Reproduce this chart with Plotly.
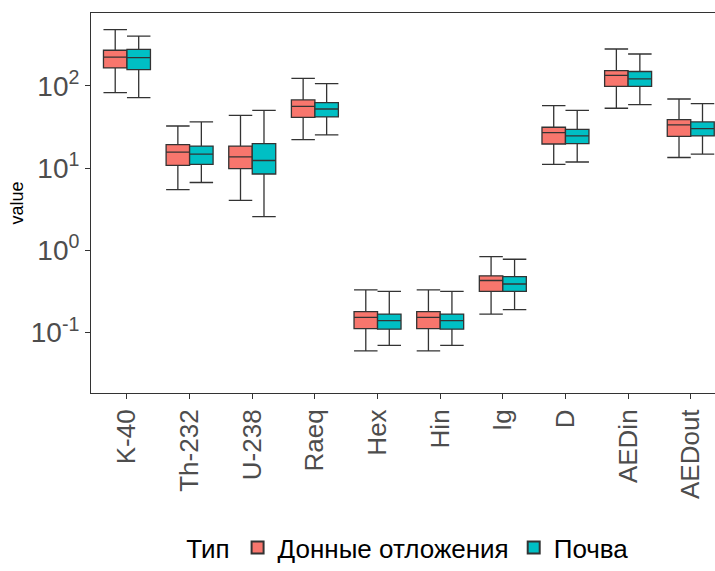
import plotly.graph_objects as go

# Radiological indicators
categories = ["K-40", "Th-232", "U-238", "Raeq", "Hex", "Hin", "Ig", "D", "AEDin", "AEDout"]

# Bottom sediments: whisker ends, quartiles, medians
sed_low = [83, 5.5, 4.07, 22.3, 0.06, 0.06, 0.168, 11.1, 53.6, 13.5]
sed_q1 = [166, 10.8, 9.9, 41.6, 0.112, 0.112, 0.318, 19.7, 99, 24.4]
sed_med = [225, 15.7, 13.7, 56.6, 0.153, 0.153, 0.43, 27.1, 135, 33.6]
sed_q3 = [272, 19.4, 18.6, 67.6, 0.18, 0.18, 0.49, 31.5, 154, 39.0]
sed_high = [486, 32.6, 44.0, 124, 0.33, 0.33, 0.84, 57.7, 282, 69.5]

# Soil: whisker ends, quartiles, medians
soil_low = [72, 6.7, 2.58, 25.4, 0.07, 0.07, 0.19, 11.9, 59.4, 14.8]
soil_q1 = [158, 11.1, 8.5, 42.0, 0.11, 0.11, 0.318, 19.9, 99, 24.7]
soil_med = [221, 14.8, 12.4, 52.5, 0.14, 0.14, 0.39, 24.7, 122, 30.3]
soil_q3 = [279, 18.6, 19.9, 62.8, 0.168, 0.168, 0.48, 29.7, 150, 36.5]
soil_high = [405, 36.5, 50.6, 107, 0.318, 0.318, 0.78, 50.6, 245, 61.1]

group_names = ["Донные отложения", "Почва"]
y_ticks = [0.1, 1, 10, 100]
y_tick_text = ["10<sup>-1</sup>", "10<sup>0</sup>", "10<sup>1</sup>", "10<sup>2</sup>"]

FONT = "Liberation Sans, Arial, sans-serif"
EDGE = "#333333"

fig = go.Figure()
for name, color, lo, q1, med, q3, hi in [
    (group_names[0], "#F8766D", sed_low, sed_q1, sed_med, sed_q3, sed_high),
    (group_names[1], "#00BFC4", soil_low, soil_q1, soil_med, soil_q3, soil_high),
]:
    fig.add_trace(go.Box(
        name=name,
        x=categories,
        q1=q1, median=med, q3=q3,
        lowerfence=lo, upperfence=hi,
        fillcolor=color,
        line=dict(color=EDGE, width=1.3),
        whiskerwidth=1,
        boxpoints=False,
        hoverinfo="skip",
    ))

fig.update_layout(
    width=715, height=571,
    margin=dict(l=91, r=0, t=13, b=178),
    paper_bgcolor="white",
    plot_bgcolor="white",
    boxmode="group",
    boxgap=0.25,
    boxgroupgap=0.0,
    font=dict(family=FONT, color="black"),
    showlegend=True,
    legend=dict(
        orientation="h",
        x=0.51, xanchor="center",
        yref="container",
        y=-0.012, yanchor="bottom",
        font=dict(size=26, color="black", family=FONT),
        title=dict(text="Тип", font=dict(size=26, color="black", family=FONT), side="left"),
        itemsizing="constant",
        tracegroupgap=0,
    ),
    xaxis=dict(
        type="category",
        range=[-0.574, 9.387],
        showline=True, linecolor=EDGE, linewidth=1, mirror=True,
        ticks="outside", ticklen=5, tickcolor=EDGE,
        tickangle=-90,
        tickfont=dict(size=26, color="#4D4D4D", family=FONT),
        showgrid=False, zeroline=False,
    ),
    yaxis=dict(
        type="log",
        range=[-1.735, 2.888],
        tickvals=y_ticks, ticktext=y_tick_text,
        showline=True, linecolor=EDGE, linewidth=1,
        ticks="outside", ticklen=5, tickcolor=EDGE,
        tickfont=dict(size=28, color="#4D4D4D", family=FONT),
        showgrid=False, zeroline=False,
        title=dict(text="value", font=dict(size=18, color="black", family=FONT), standoff=2),
    ),
)

fig.write_html("out.html")
